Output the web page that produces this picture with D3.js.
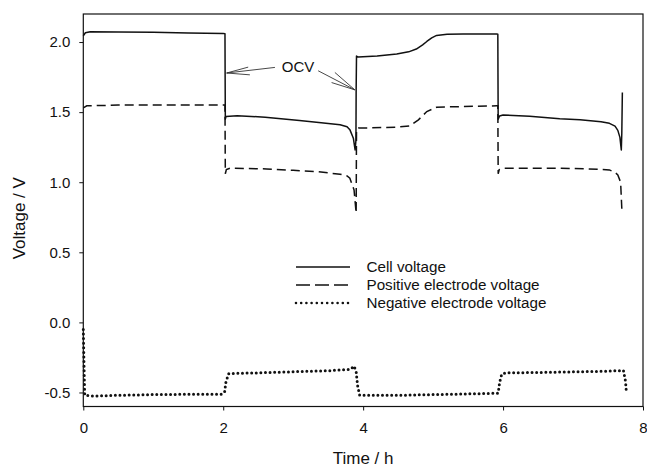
<!DOCTYPE html>
<html>
<head>
<meta charset="utf-8">
<script src="https://cdn.jsdelivr.net/npm/d3@7"></script>
<style>
  body { margin: 0; background: #fff; }
  svg { display: block; }
  text { font-family: "Liberation Sans", Arial, Helvetica, sans-serif; fill: #111; }
</style>
</head>
<body>
<svg id="chart" width="647" height="470"></svg>
<script>
// ---- data (time in h, voltage in V) ----
const cellVoltage = [
  [0, 2.045], [0.03, 2.066], [0.1, 2.074], [0.5, 2.072], [1.0, 2.069], [1.5, 2.065], [2.0, 2.061],
  [2.025, 2.06], [2.027, 1.78], [2.03, 1.45], [2.04, 1.468], [2.2, 1.474], [2.6, 1.464],
  [3.09, 1.44], [3.4, 1.425], [3.67, 1.41], [3.77, 1.396], [3.81, 1.375], [3.86, 1.314],
  [3.885, 1.23], [3.897, 1.3], [3.9, 1.66], [3.905, 1.90], [3.93, 1.893], [4.2, 1.9],
  [4.48, 1.914], [4.65, 1.93], [4.76, 1.95], [4.85, 1.98], [4.91, 2.004], [4.98, 2.03],
  [5.05, 2.047], [5.2, 2.055], [5.43, 2.057], [5.7, 2.058], [5.91, 2.057],
  [5.925, 2.055], [5.927, 1.78], [5.93, 1.45], [5.95, 1.472], [6.0, 1.48], [6.38, 1.47],
  [6.81, 1.452], [7.1, 1.445], [7.4, 1.432], [7.52, 1.42], [7.6, 1.40], [7.64, 1.37],
  [7.67, 1.32], [7.69, 1.23], [7.697, 1.35], [7.705, 1.64]
];
const positiveVoltage = [
  [0, 1.53], [0.05, 1.545], [0.5, 1.55], [1.0, 1.55], [1.5, 1.55], [2.0, 1.55], [2.025, 1.55],
  [2.03, 1.06], [2.045, 1.09], [2.1, 1.10], [2.62, 1.095], [3.0, 1.085], [3.33, 1.076],
  [3.67, 1.057], [3.77, 1.045], [3.81, 1.029], [3.87, 0.945], [3.9, 0.78], [3.905, 1.38],
  [3.93, 1.386], [4.48, 1.393], [4.67, 1.402], [4.79, 1.445], [4.91, 1.504], [5.05, 1.535],
  [5.43, 1.54], [5.91, 1.545], [5.925, 1.545], [5.93, 1.06], [5.945, 1.09], [6.0, 1.10],
  [6.4, 1.10], [6.81, 1.10], [7.2, 1.095], [7.52, 1.088], [7.6, 1.07], [7.64, 1.052],
  [7.68, 1.0], [7.7, 0.78]
];
const negativeVoltage = [
  [0, -0.05], [0.01, -0.3], [0.02, -0.52], [0.15, -0.525], [0.5, -0.52], [1.0, -0.515],
  [1.5, -0.513], [1.98, -0.512], [2.02, -0.495], [2.04, -0.42], [2.08, -0.365], [2.5, -0.36],
  [3.0, -0.352], [3.5, -0.345], [3.82, -0.335], [3.87, -0.312], [3.9, -0.35], [3.92, -0.45],
  [3.95, -0.52], [4.5, -0.52], [5.0, -0.515], [5.5, -0.51], [5.93, -0.505], [5.95, -0.43],
  [5.98, -0.37], [6.04, -0.36], [6.5, -0.357], [7.0, -0.353], [7.5, -0.348], [7.72, -0.343],
  [7.75, -0.42], [7.76, -0.483]
];
const seriesNames = ["Cell voltage", "Positive electrode voltage", "Negative electrode voltage"];
const xTicks = [0, 2, 4, 6, 8];
const yTicks = [-0.5, 0.0, 0.5, 1.0, 1.5, 2.0];
const xDomain = [0, 8];
const yDomain = [-0.6, 2.2];
const xLabel = "Time / h";
const yLabel = "Voltage / V";
// OCV annotation: text position and two arrows [start, tip, head1, head2] in data units
const ocvLabel = "OCV";
const ocvText = [3.07, 1.826];
const ocvArrows = [
  [[2.739, 1.819], [2.049, 1.779], [2.357, 1.821], [2.381, 1.766]],
  [[3.357, 1.795], [3.881, 1.659], [3.596, 1.783], [3.549, 1.711]]
];

// ---- layout ----
const L = 83.3, R = 643, T = 14, B = 406.5;
const svg = d3.select("#chart");
const x = d3.scaleLinear().domain(xDomain).range([L, R]);
const y = d3.scaleLinear().domain(yDomain).range([B, T]);
const FONT = '"Liberation Sans", Arial, Helvetica, sans-serif';

const fmtY = v => d3.format(".1f")(v).replace("\u2212", "-");

// axes
const gx = svg.append("g").attr("transform", `translate(0,${B})`)
  .call(d3.axisBottom(x).tickValues(xTicks).tickFormat(d3.format("d")).tickSizeInner(4).tickSizeOuter(0).tickPadding(12));
const gy = svg.append("g").attr("transform", `translate(${L},0)`)
  .call(d3.axisLeft(y).tickValues(yTicks).tickFormat(fmtY).tickSizeInner(4).tickSizeOuter(0).tickPadding(9));
[gx, gy].forEach(g => {
  g.select(".domain").remove();
  g.selectAll(".tick line").attr("stroke", "#111").attr("stroke-width", 1);
  g.selectAll(".tick text").attr("font-size", 15).attr("font-family", FONT).attr("fill", "#111");
});

// frame
svg.append("rect").attr("x", L).attr("y", T).attr("width", R - L).attr("height", B - T)
  .attr("fill", "none").attr("stroke", "#111").attr("stroke-width", 1.2);

// axis titles
svg.append("text").attr("x", (L + R) / 2).attr("y", 464).attr("text-anchor", "middle")
  .attr("font-size", 17).text(xLabel);
svg.append("text").attr("transform", `translate(25,${(T + B) / 2 + 8}) rotate(-90)`)
  .attr("text-anchor", "middle").attr("font-size", 17).text(yLabel);

// lines
const line = d3.line().x(d => x(d[0])).y(d => y(d[1]));
const plot = svg.append("g");
plot.append("path").datum(cellVoltage).attr("d", line)
  .attr("fill", "none").attr("stroke", "#111").attr("stroke-width", 1.5).attr("stroke-linejoin", "round");
plot.append("path").datum(positiveVoltage).attr("d", line)
  .attr("fill", "none").attr("stroke", "#111").attr("stroke-width", 1.5).attr("stroke-dasharray", "9,5");
plot.append("path").datum(negativeVoltage).attr("d", line)
  .attr("fill", "none").attr("stroke", "#111").attr("stroke-width", 3)
  .attr("stroke-linecap", "round").attr("stroke-dasharray", "0,4.6");

// OCV annotation
svg.append("text").attr("x", x(ocvText[0])).attr("y", y(ocvText[1]) + 5.5)
  .attr("text-anchor", "middle").attr("font-size", 15).text(ocvLabel);
ocvArrows.forEach(a => {
  const g = svg.append("g").attr("stroke", "#333").attr("stroke-width", 0.9).attr("fill", "none");
  g.append("line").attr("x1", x(a[0][0])).attr("y1", y(a[0][1])).attr("x2", x(a[1][0])).attr("y2", y(a[1][1]));
  g.append("line").attr("x1", x(a[2][0])).attr("y1", y(a[2][1])).attr("x2", x(a[1][0])).attr("y2", y(a[1][1]));
  g.append("line").attr("x1", x(a[3][0])).attr("y1", y(a[3][1])).attr("x2", x(a[1][0])).attr("y2", y(a[1][1]));
});

// legend
const legY = [267, 285, 303];
const styles = [
  { w: 1.5, dash: null, cap: "butt" },
  { w: 1.5, dash: "14,5", cap: "butt" },
  { w: 2.6, dash: "0,5.2", cap: "round" }
];
seriesNames.forEach((name, i) => {
  const ln = svg.append("line").attr("x1", 296).attr("x2", 350).attr("y1", legY[i]).attr("y2", legY[i])
    .attr("stroke", "#111").attr("stroke-width", styles[i].w).attr("stroke-linecap", styles[i].cap);
  if (styles[i].dash) ln.attr("stroke-dasharray", styles[i].dash);
  svg.append("text").attr("x", 366.5).attr("y", legY[i] + 5).attr("font-size", 15.2).text(name);
});
</script>
</body>
</html>
